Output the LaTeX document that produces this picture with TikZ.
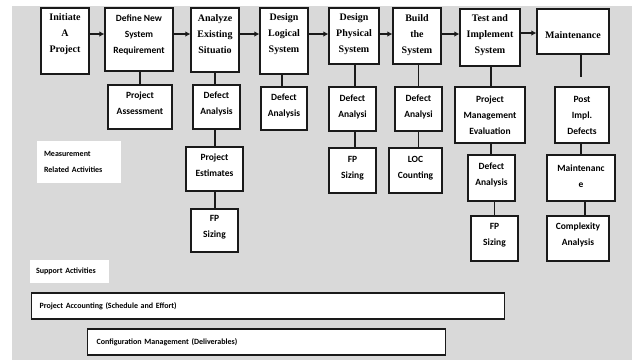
\documentclass[tikz,border=0pt]{standalone}
\usepackage{fontspec}
\setmainfont{Carlito}
\newfontfamily\serifb{Liberation Serif}
\usetikzlibrary{arrows.meta}
\definecolor{bggray}{HTML}{D9D9D9}
\definecolor{edge}{HTML}{1A1A1A}
\tikzset{
  box/.style={draw=edge, line width=1.2pt, fill=white, inner sep=0pt},
  btxt/.style={align=center, inner sep=0pt, font=\fontsize{9.5}{16}\selectfont\bfseries},
  stxt/.style={btxt, font=\serifb\fontsize{10}{16}\selectfont\bfseries},
  lbox/.style={draw=edge, line width=1.2pt, fill=white, align=left, anchor=west, inner sep=0pt,
    font=\fontsize{8}{9}\selectfont\bfseries},
  wlabel/.style={fill=white, align=left, inner sep=0pt, font=\fontsize{8}{16}\selectfont\bfseries},
  arr/.style={line width=1.3pt, draw=edge, -{Latex[length=5pt,width=5.5pt]}},
  conn/.style={line width=1.2pt, draw=edge},
}
\begin{document}
\begin{tikzpicture}[x=1pt,y=-1pt]
\useasboundingbox (0,0) rectangle (632,360);
\fill[white] (0,0) rectangle (632,360);
\fill[bggray] (12,6) rectangle (632,360);

% top row
\node[box, minimum width=48, minimum height=66, label={[stxt,yshift=6.5pt]center:{Initiate\\A\\Project}}] (init) at (65,41) {};
\node[box, minimum width=68, minimum height=63, label={[btxt,yshift=5pt]center:{Define New\\System\\Requirement}}] (def) at (139,39.5) {};
\node[box, minimum width=48, minimum height=64, label={[stxt,yshift=5.5pt]center:{Analyze\\Existing\\Situatio}}] (ana) at (215,40) {};
\node[box, minimum width=48, minimum height=66, label={[stxt,yshift=6.5pt]center:{Design\\Logical\\System}}] (log) at (284,41) {};
\node[box, minimum width=50, minimum height=56, label={[stxt,yshift=1.5pt]center:{Design\\Physical\\System}}] (phy) at (354,36) {};
\node[box, minimum width=48, minimum height=56, label={[stxt,yshift=1pt]center:{Build\\the\\System}}] (bld) at (417,36) {};
\node[box, minimum width=60, minimum height=57, label={[stxt,yshift=2.5pt]center:{Test and\\Implement\\System}}] (tst) at (490,37.5) {};
\node[box, minimum width=72, minimum height=45, label={[stxt,yshift=-3.5pt]center:{Maintenance}}] (mnt) at (573,31.5) {};

% second row
\node[box, minimum width=64, minimum height=44, label={[btxt,yshift=3.5pt]center:{Project\\Assessment}}] (pa) at (140,107) {};
\node[box, minimum width=47, minimum height=44, label={[btxt,yshift=3pt]center:{Defect\\Analysis}}] (da1) at (216.5,107) {};
\node[box, minimum width=46, minimum height=43, label={[btxt,yshift=2.5pt]center:{Defect\\Analysis}}] (da2) at (284,108.5) {};
\node[box, minimum width=47, minimum height=44, label={[btxt,yshift=2pt]center:{Defect\\Analysi}}] (da3) at (352.5,109) {};
\node[box, minimum width=47, minimum height=44, label={[btxt,yshift=2pt]center:{Defect\\Analysi}}] (da4) at (418.5,109) {};
\node[box, minimum width=70, minimum height=56, label={[btxt]center:{Project\\Management\\Evaluation}}] (pme) at (490,115) {};
\node[box, minimum width=54, minimum height=56, label={[btxt]center:{Post\\Impl.\\Defects}}] (pid) at (582,115) {};

% third row
\node[box, minimum width=57, minimum height=44, label={[btxt,yshift=4pt]center:{Project\\Estimates}}] (pe) at (214.5,169) {};
\node[box, minimum width=47, minimum height=45, label={[btxt,yshift=2pt]center:{FP\\Sizing}}] (fp1) at (352.5,170.5) {};
\node[box, minimum width=53, minimum height=45, label={[btxt,yshift=2pt]center:{LOC\\Counting}}] (loc) at (415.5,170.5) {};
\node[box, minimum width=47, minimum height=46, label={[btxt,yshift=3pt]center:{Defect\\Analysis}}] (da5) at (491.5,178) {};
\node[box, minimum width=68, minimum height=46, label={[btxt,yshift=2pt]center:{Maintenanc\\e}}] (mnt2) at (581,178) {};

% fourth row
\node[box, minimum width=47, minimum height=43, label={[btxt,yshift=3pt]center:{FP\\Sizing}}] (fp0) at (214.5,230.5) {};
\node[box, minimum width=47, minimum height=45, label={[btxt,yshift=3.5pt]center:{FP\\Sizing}}] (fp2) at (494.5,238.5) {};
\node[box, minimum width=62, minimum height=45, label={[btxt,yshift=3.5pt]center:{Complexity\\Analysis}}] (cx) at (578,238.5) {};

% white labels
\node[wlabel, minimum width=84, minimum height=42, text width=70] (mra) at (79,162) {Measurement\\Related Activities};
\node[wlabel, minimum width=79, minimum height=23, text width=67] (sup) at (69.5,271.5) {Support Activities};

% support bars
\node[lbox, minimum width=473, minimum height=26, text width=467] (acct) at (31,306) {\hspace*{5pt}Project Accounting (Schedule and Effort)};
\node[lbox, minimum width=358, minimum height=26, text width=352] (cfg) at (87,342) {\hspace*{6pt}Configuration Management (Deliverables)};

% arrows
\coordinate (ya) at (0,34);
\coordinate (yb) at (0,33);
\draw[arr] (init.east |- ya) -- (def.west |- ya);
\draw[arr] (def.east |- ya) -- (ana.west |- ya);
\draw[arr] (ana.east |- ya) -- (log.west |- ya);
\draw[arr] (log.east |- ya) -- (phy.west |- ya);
\draw[arr] (phy.east |- ya) -- (bld.west |- ya);
\draw[arr] (bld.east |- ya) -- (tst.west |- ya);
\draw[arr] (tst.east |- yb) -- (mnt.west |- yb);

% connectors
\draw[conn] (pa.north) -- (pa.north |- def.south);
\draw[conn] (da1.north) ++(-1.5,0) coordinate (c1) -- (c1 |- ana.south);
\draw[conn] (da2.north) ++(-2,0) coordinate (c2) -- (c2 |- log.south);
\draw[conn] (da3.north) ++(2.5,0) coordinate (c3) -- (c3 |- phy.south);
\draw[conn] (da4.north) -- (da4.north |- bld.south);
\draw[conn] (pme.north) ++(1,0) coordinate (c4) -- (c4 |- tst.south);
\coordinate (mend) at (581,77);
\draw[conn] (mend |- mnt.south) -- (mend);
\draw[conn] (mnt2.north) -- (mnt2.north |- pid.south);
\draw[conn] (pe.north) ++(0.5,0) coordinate (c5) -- (c5 |- da1.south);
\draw[conn] (fp0.north) ++(0.5,0) coordinate (c6) -- (c6 |- pe.south);
\draw[conn] (fp1.north) ++(2.5,0) coordinate (c7) -- (c7 |- da3.south);
\draw[conn] (da4.south) -- (da4.south |- loc.north);
\draw[conn] (pme.south) ++(1,0) coordinate (c8) -- (c8 |- da5.north);
\draw[conn] (fp2.north) -- (fp2.north |- da5.south);
\draw[conn] (mnt2.south) ++(4,0) coordinate (c9) -- (c9 |- cx.north);
\end{tikzpicture}
\end{document}
